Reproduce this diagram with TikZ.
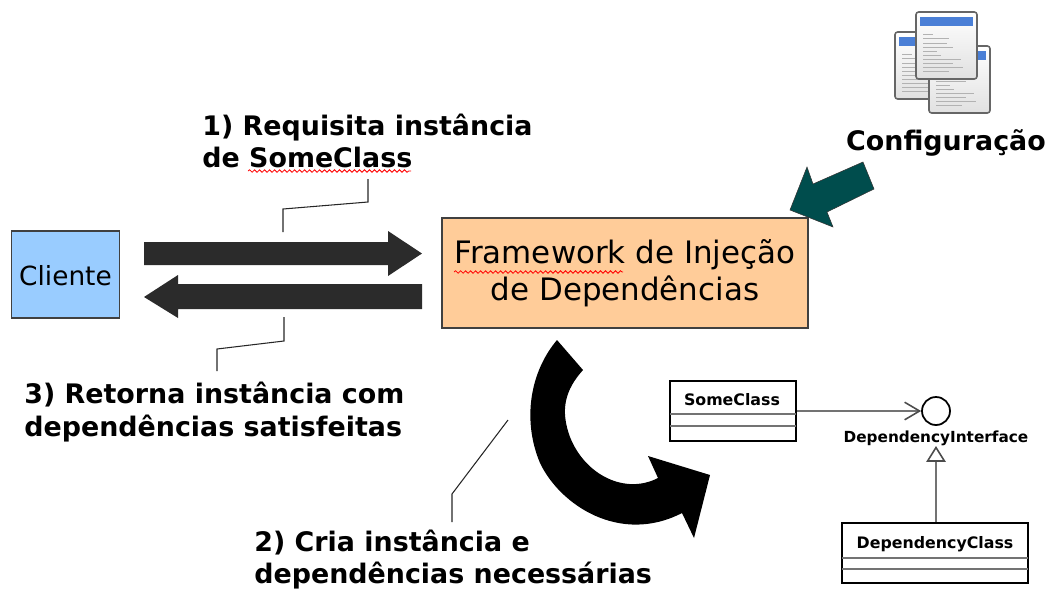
\documentclass[tikz,border=0pt]{standalone}
\usepackage{fontspec}
\setmainfont{DejaVu Sans}
\usetikzlibrary{arrows.meta,decorations.pathmorphing}

\definecolor{clienteBlue}{HTML}{99CCFF}
\definecolor{frameworkOrange}{HTML}{FFCC99}
\definecolor{configTeal}{HTML}{004D4D}
\definecolor{flowGray}{HTML}{2B2B2B}
\definecolor{headerBlue}{HTML}{4A7FD6}

\tikzset{
  boxNode/.style={draw=black!75, line width=0.75pt, inner sep=0pt, align=center},
  stepLabel/.style={anchor=west, inner sep=0pt, align=left, font=\fontsize{15.3}{18.7}\selectfont\bfseries},
  umlBox/.style={draw=black, line width=0.9pt, inner sep=0pt},
  umlLabel/.style={inner sep=0pt, font=\fontsize{9}{11}\selectfont\bfseries},
  umlLine/.style={draw=black!55, line width=0.9pt},
  leaderLine/.style={draw=black!85, line width=0.6pt},
  spellLine/.style={draw=red, line width=0.45pt, decorate, decoration={snake, segment length=0.1cm, amplitude=0.025cm}},
  docSheet/.style={draw=black!60, line width=0.9pt, rounded corners=1.5pt, top color=white, bottom color=black!12}
}

\def \flowLeft{144}
\def \flowRight{422}

\begin{document}
\begin{tikzpicture}[x=0.02cm, y=-0.02cm]
\useasboundingbox (0,0) rectangle (1052,589);

% ---- Boxes
\node [boxNode, fill=clienteBlue, minimum width=2.15cm, minimum height=1.74cm, font=\fontsize{15}{18}\selectfont] (cliente) at (65.5,274.5) {\raisebox{-6.3pt}[0pt][0pt]{Cliente}};
\node [boxNode, fill=frameworkOrange, minimum width=7.32cm, minimum height=2.2cm, font=\fontsize{17.6}{21}\selectfont] (framework) at (625,273) {Framework de Injeção\\de Dependências};

% ---- Flow arrows
\fill [flowGray] (\flowLeft, 242) -- (388, 242) -- (388, 231) -- (\flowRight, 253.5) -- (388, 276) -- (388, 265) -- (\flowLeft, 265) -- cycle;
\fill [flowGray] (\flowRight, 284) -- (178, 284) -- (178, 275) -- (\flowLeft, 297) -- (178, 318) -- (178, 309) -- (\flowRight, 309) -- cycle;

% ---- Config arrow
\filldraw [fill=configTeal, draw=black!80, line width=0.3pt] (790,210) -- (807,167) -- (813,184) -- (863,162) -- (874,189) -- (827,212) -- (833,227) -- cycle;

% ---- Create arrow
\fill [black] (557,340) .. controls (530,372) and (522,420) .. (540,463) .. controls (560,505) and (620,545) .. (682,513) -- (694,538) -- (710,475) -- (648,456) -- (658,478) .. controls (625,495) and (585,475) .. (570,437) .. controls (560,410) and (565,390) .. (583,370) -- cycle;

% ---- Config documents
\foreach \docX/\docY in {895/32, 929/46, 916/12} {
  \draw [docSheet] (\docX, \docY) rectangle (\docX + 61, \docY + 67);
  \fill [headerBlue] (\docX + 4, \docY + 5) rectangle (\docX + 57, \docY + 14);
  \foreach \lineY/\lineLen in {22/10, 26/26, 31/24, 35/30, 39/14, 43/18, 47/38, 51/30, 55/40, 59/26} {
    \draw [black!30, line width=0.3pt] (\docX + 7, \docY + \lineY) -- (\docX + 7 + \lineLen, \docY + \lineY);
  }
}

% ---- Labels
\node [anchor=center, inner sep=0pt, font=\fontsize{15.3}{18.7}\selectfont\bfseries] (configuracao) at (946,143) {Configuração};
\node [stepLabel] (requisita) at (202,141) {1) Requisita instância\\de SomeClass};
\node [stepLabel] (retorna) at (24,412) {3) Retorna instância com\\dependências satisfeitas};
\node [stepLabel] (cria) at (254,559.5) {2) Cria instância e\\dependências necessárias};

% ---- Spelling marks
\draw [spellLine] (248,171) -- (411,171);
\draw [spellLine] (454,272) -- (623,272);

% ---- Leader lines
\coordinate (reqA) at (368,179);
\coordinate (reqB) at (283,232);
\draw [leaderLine] (reqA) -- (368,202) -- (283,209) -- (reqB);
\coordinate (retA) at (284,317);
\coordinate (retB) at (217,371);
\draw [leaderLine] (retA) -- (284,341) -- (217,349) -- (retB);
\coordinate (criaA) at (508,420);
\coordinate (criaB) at (452,522);
\draw [leaderLine] (criaA) -- (452,494) -- (criaB);

% ---- UML
\node [umlBox, fill=white, minimum width=2.52cm, minimum height=1.2cm] (someClass) at (733,411) {};
\node [umlLabel] (someClassLabel) at (732,400) {SomeClass};
\draw [umlLine] (670,414) -- (796,414);
\draw [umlLine] (670,426) -- (796,426);

\node [umlBox, fill=white, minimum width=3.72cm, minimum height=1.2cm] (dependencyClass) at (935,553) {};
\node [umlLabel] (dependencyClassLabel) at (935,544) {DependencyClass};
\draw [umlLine] (842,558) -- (1028,558);
\draw [umlLine] (842,569) -- (1028,569);

\node [circle, draw=black, line width=1pt, fill=white, minimum size=0.56cm, inner sep=0pt] (dependencyInterface) at (936,411) {};
\node [umlLabel, font=\fontsize{8.7}{11}\selectfont\bfseries] (dependencyInterfaceLabel) at (936,438) {DependencyInterface};

\coordinate (realizeEnd) at (936,446);
\draw [umlLine, -{Straight Barb[length=8.5pt, width=10pt, black!70]}] (someClass.east |- dependencyInterface.west) -- (dependencyInterface.west);
\draw [umlLine, -{Triangle[open, length=9pt, width=11pt, black!70]}] (dependencyClass.north -| realizeEnd) -- (realizeEnd);
\end{tikzpicture}
\end{document}
